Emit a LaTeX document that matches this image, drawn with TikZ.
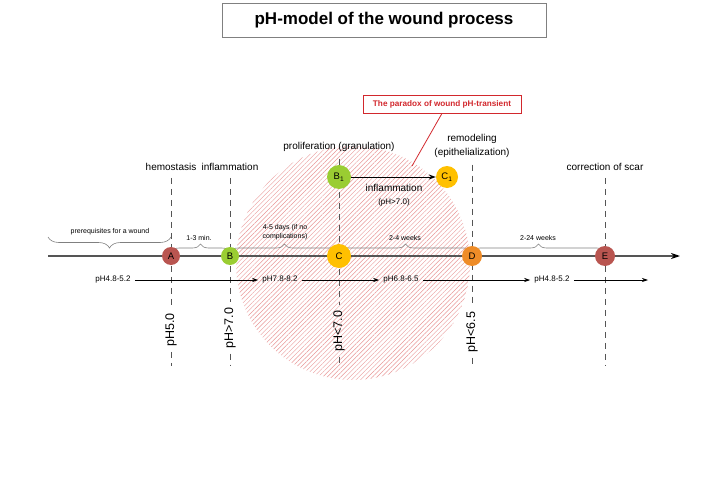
\documentclass[tikz,border=0pt]{standalone}
\usepackage{fontspec}
\setmainfont{Liberation Sans}
\usetikzlibrary{arrows.meta,decorations.pathreplacing,patterns.meta,backgrounds}
\definecolor{stagered}{RGB}{185,85,80}
\definecolor{stagegreen}{RGB}{154,205,50}
\definecolor{stagegold}{RGB}{255,192,0}
\definecolor{stageorange}{RGB}{238,140,40}
\definecolor{hatchred}{RGB}{232,150,150}
\definecolor{axisgray}{RGB}{85,85,85}
\definecolor{paradoxred}{RGB}{210,40,45}

\begin{document}
\begin{tikzpicture}[x=1pt, y=-1pt,
    stage/.style={circle, fill=#1, inner sep=0pt, font=\fontsize{9.5}{10}\selectfont},
    phase/.style={font=\fontsize{10}{13.5}\selectfont, align=center, inner sep=2pt},
    tiny/.style={font=\fontsize{7}{9.5}\selectfont, align=center, inner sep=1pt},
    phrow/.style={font=\fontsize{8}{9}\selectfont, inner sep=4pt},
    phmark/.style={rotate=90, font=\fontsize{12.5}{14}\selectfont, inner sep=5pt},
    guide/.style={axisgray, line width=0.6pt, dash pattern=on 6pt off 5pt, shorten <=5pt},
    timebrace/.style={decorate, decoration={brace, amplitude=#1}, gray, line width=0.6pt},
    phstep/.style={-{Stealth[length=6pt, width=4pt]}, line width=0.7pt}]

  \useasboundingbox (0,0) rectangle (720,487);

  \node[draw=gray, line width=0.8pt, minimum width=324pt, minimum height=34pt,
        font=\bfseries\fontsize{17}{20}\selectfont] (title) at (384,20) {pH-model of the wound process};

  \foreach \n/\x/\col/\d in {A/171/stagered/18, B/230/stagegreen/18, C/339/stagegold/24,
                              D/472/stageorange/20, E/605/stagered/20}
  {
    \node[stage=\col, minimum size=\d pt] (\n) at (\x,256) {\n};
  }
  \node[stage=stagegreen, minimum size=24pt] (B1) at (339,177) {B\textsubscript{1}};
  \node[stage=stagegold, minimum size=22pt] (C1) at (447,177) {C\textsubscript{1}};

  \node[phase] (hemo) at (171,167) {hemostasis};
  \node[phase] (infl) at (230,167) {inflammation};
  \node[phase] (prolif) at (339,147) {proliferation (granulation)};
  \node[phase] (remod) at (472,146) {remodeling\\(epithelialization)};
  \node[phase] (scar) at (605,167) {correction of scar};

  \node[phase] (inflB) at (394,188) {inflammation};
  \node[font=\fontsize{8}{9}\selectfont] (inflBph) at (394,202) {(pH>7.0)};

  \node[draw=paradoxred, line width=0.8pt, text=paradoxred, minimum width=158pt, minimum height=18pt,
        font=\bfseries\fontsize{8.2}{9}\selectfont] (paradox) at (442,104) {The paradox of wound pH-transient};
  \coordinate (paradoxtip) at (412,166);
  \draw[paradoxred, line width=0.8pt] (paradox.south) -- (paradoxtip);

  \node[phmark] (mA) at (171,330) {pH5.0};
  \node[phmark] (mB) at (230,328) {pH>7.0};
  \node[phmark] (mC) at (339,331) {pH<7.0};
  \node[phmark] (mD) at (472,332) {pH<6.5};
  \foreach \n/\x in {A/171, B/230, C/339, D/472, E/605}
    \coordinate (foot\n) at (\x,366);

  \node[tiny] (prereq) at (110,232) {prerequisites for a wound};
  \node[tiny] (tAB) at (199,238) {1-3 min.};
  \node[tiny] (tBC) at (285,232) {4-5 days (if no\\complications)};
  \node[tiny] (tCD) at (405,238) {2-4 weeks};
  \node[tiny] (tDE) at (538,238) {2-24 weeks};

  \node[phrow] (p1) at (113,280) {pH4.8-5.2};
  \node[phrow] (p2) at (280,280) {pH7.8-8.2};
  \node[phrow] (p3) at (401,280) {pH6.8-6.5};
  \node[phrow] (p4) at (552,280) {pH4.8-5.2};
  \coordinate (pend) at (648,280);
  \draw[phstep] (p1) -- (p2);
  \draw[phstep] (p2) -- (p3);
  \draw[phstep] (p3) -- (p4);
  \draw[phstep] (p4) -- (pend);

  \draw[-{Stealth[length=7pt, width=5pt]}, line width=1pt] (B1) -- (C1);

  \begin{scope}[on background layer]
    \fill[pattern={Lines[angle=45, distance=3.2pt, line width=0.45pt]}, pattern color=hatchred]
      (353,263) circle (117pt);

    \draw[guide] (hemo) -- (mA);
    \draw[guide] (infl) -- (mB);
    \draw[guide] (prolif) -- (mC);
    \draw[guide] (remod) -- (mD);
    \draw[guide] (scar) -- (footE);
    \foreach \n in {A, B, C, D}
      \draw[guide, shorten <=0pt] (m\n) -- (foot\n);

    \coordinate (axstart) at (48,256);
    \coordinate (axend) at (680,256);
    \draw[axisgray, line width=1.6pt, -{Stealth[length=9pt, width=6pt, black]}] (axstart) -- (axend);

    \coordinate (prereqL) at (48,237);
    \draw[timebrace=11pt] ([yshift=19pt]A.center) -- (prereqL);
    \draw[timebrace=8pt] ([yshift=4pt]A.center) -- ([yshift=4pt]B.center);
    \draw[timebrace=8pt] ([yshift=4pt]B.center) -- ([yshift=4pt]C.center);
    \draw[timebrace=8pt] ([yshift=4pt]C.center) -- ([yshift=4pt]D.center);
    \draw[timebrace=8pt] ([yshift=4pt]D.center) -- ([yshift=4pt]E.center);
  \end{scope}
\end{tikzpicture}
\end{document}
